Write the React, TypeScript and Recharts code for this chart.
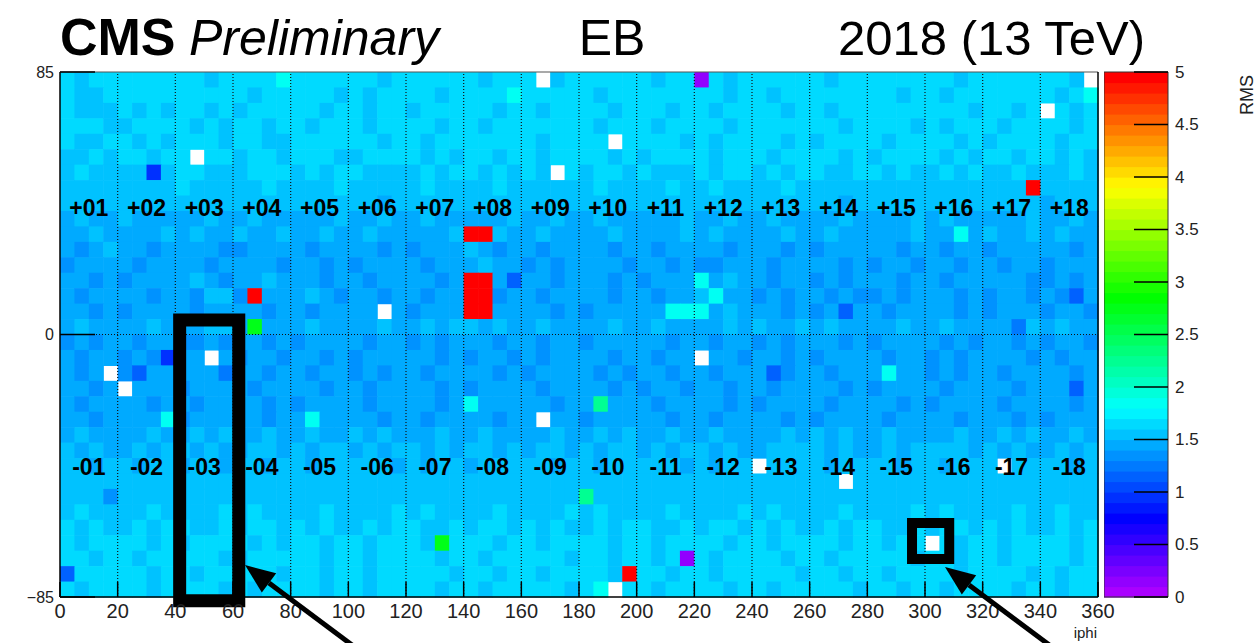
import React from "react";
import { ScatterChart, Scatter, XAxis, YAxis, ReferenceLine, ReferenceArea } from "recharts";

// ==================== data ====================
// one string per 5-eta row (eta 85 -> -85), 72 cells of 5 iphi each, grouped by supermodule (4 cells)
// '0' = empty bin (white), '1'..'9' = increasing RMS in the blue/cyan range, g/G = greenish, p = purple, r = red (>=5)
const ROWS = [
  "8788 8888 8878 8889 8888 8878 8888 8788 8078 8888 8788 p878 8888 8788 8888 8878 8888 8870",
  "8778 8888 8888 8788 8887 8788 8878 8889 8888 8788 8888 8878 8788 8888 8878 8788 8888 8789",
  "8777 8787 8878 7888 8878 8788 7888 8878 8788 8878 8878 8788 8878 8788 8888 8887 8878 0878",
  "8887 7888 8787 8878 8788 8788 8878 8788 8888 8788 8788 8878 8888 8878 8887 8788 8788 8878",
  "8778 8787 8887 8877 8888 8878 8788 8888 8788 8808 8887 8788 8878 7888 8788 8878 7888 8788",
  "7787 8878 8088 7887 8887 7888 8787 8878 8788 8878 7888 8788 8788 8878 7888 8787 8878 8787",
  "7877 7717 8877 7888 7878 8777 7878 8787 8708 7887 8777 8788 7878 8778 8787 7878 7787 7787",
  "7677 7767 8777 7787 7778 7767 7877 7787 7777 7877 7787 7877 7787 7777 7777 7776 776r 6777",
  "6666 6766 6676 6676 6667 6656 6766 6766 6676 6766 6666 6676 6666 6656 6666 6676 6667 5666",
  "5655 6555 5565 5655 5556 5565 5655 5556 5565 5655 5556 5565 5655 5565 5556 5655 5556 5565",
  "5565 5556 5655 6556 5565 5655 5556 rr65 5655 5565 5556 5655 5565 5655 5556 5595 6556 5655",
  "5456 5545 5554 4555 5455 5545 4555 6545 5455 5545 5455 5545 5545 4555 5545 5455 4555 5545",
  "4555 5455 5545 5554 5545 4555 5455 5655 4545 5554 5545 4455 5455 5545 4554 5545 5455 4555",
  "5545 4555 5654 5565 5545 5455 5545 rr52 5545 5545 4555 9565 5455 4545 5545 5455 5554 4545",
  "5455 5545 5466 4r55 5654 5545 5455 rr45 5455 5545 5455 6955 4545 5454 4545 5545 4554 5425",
  "5545 4555 5455 5545 5455 5505 4555 rr55 5545 4555 5599 9565 5545 4525 5455 5545 4555 4554",
  "5655 5565 5566 5G55 5655 5565 5656 6565 5655 5565 5655 5565 6556 5655 5565 5655 5536 5655",
  "4545 5455 4454 5545 4555 5455 4545 5545 5455 4555 5545 5455 4545 5545 4555 5454 5545 4554",
  "5455 4541 5505 4554 5545 4555 5545 4554 5455 5545 5455 0554 5545 4555 5455 4545 5554 5455",
  "5450 4255 5553 5545 5455 4545 5455 5545 4555 5454 5545 5455 5245 5455 5955 4545 5455 5545",
  "5545 0555 4555 5455 5545 5455 5545 4555 5455 5545 4554 5545 5455 5545 4555 5455 5545 5525",
  "5455 5545 5455 5545 4555 5455 5545 9555 5545 5g55 5455 5545 4555 5455 5545 4555 5455 5545",
  "5545 5559 4555 5545 5955 5545 5455 5545 5055 4555 5545 5455 5545 4555 5455 5545 5545 4555",
  "5655 5565 5656 5565 5655 6565 5565 5655 5565 5656 5565 5655 5565 6565 5655 5565 5656 5565",
  "6565 5656 6565 5665 6566 5656 6565 6656 5665 6566 5656 6565 5666 6565 5656 6665 6565 5656",
  "6656 6566 5665 6656 6566 6665 6566 5666 6656 6566 6665 6566 0666 6566 6656 6566 6066 6656",
  "6766 6676 6667 6676 7666 6676 6667 6766 6676 6766 6676 6667 6676 6606 6766 6676 6667 6766",
  "6764 6676 6766 6667 6766 6676 6766 6676 6766 g676 6667 6766 6676 6766 6667 6766 6676 6667",
  "7877 7787 7778 7877 7787 7778 7877 7787 7778 7877 7787 7778 7877 7787 7778 7877 7787 7877",
  "8787 7878 8778 7887 8787 7878 8778 7887 8787 7878 8778 7887 8787 7878 8778 7887 8787 7878",
  "8788 8878 7888 8787 8878 8788 87G8 8878 8788 8878 8788 8878 8788 8878 8788 0878 8788 8878",
  "8878 8788 8887 7888 8878 8788 8878 8788 8887 8878 878p 8788 8878 8788 8887 8878 8788 8878",
  "2888 8878 8788 8887 8878 8788 8887 8878 8788 887r 8878 8788 8887 8878 8788 8878 8887 8788",
  "8788 8878 8887 8788 8878 8788 8878 8788 8887 8908 8788 8878 8788 8887 8878 8788 8878 8788",
];

const LEVELS: Record<string, number> = {
  p: 0.15, "1": 0.98, "2": 1.1, "3": 1.22, "4": 1.32, "5": 1.42,
  "6": 1.5, "7": 1.58, "8": 1.68, "9": 1.8, g: 2.2, G: 2.75, r: 5.0,
};

const SM_TOP = ["+01", "+02", "+03", "+04", "+05", "+06", "+07", "+08", "+09", "+10", "+11", "+12", "+13", "+14", "+15", "+16", "+17", "+18"];
const SM_BOTTOM = ["-01", "-02", "-03", "-04", "-05", "-06", "-07", "-08", "-09", "-10", "-11", "-12", "-13", "-14", "-15", "-16", "-17", "-18"];
const X_TICKS = [0, 20, 40, 60, 80, 100, 120, 140, 160, 180, 200, 220, 240, 260, 280, 300, 320, 340, 360];
const Y_TICKS = [-85, 0, 85];
const Z_TICKS = [0, 0.5, 1, 1.5, 2, 2.5, 3, 3.5, 4, 4.5, 5];
const SM_EDGES = [20, 40, 60, 80, 100, 120, 140, 160, 180, 200, 220, 240, 260, 280, 300, 320, 340];

// ==================== layout ====================
const W = 1258;
const H = 643;
const PLOT = { left: 60, top: 72, right: 1098, bottom: 597 };
const NCOL = 72;
const NROW = 34;
const CELL_W = (PLOT.right - PLOT.left) / NCOL;
const CELL_H = (PLOT.bottom - PLOT.top) / NROW;
const ZBAR = { left: 1104, width: 64 };
const NBANDS = 50;
const BAND_H = (PLOT.bottom - PLOT.top) / NBANDS;
const FONT = "'Liberation Sans', Arial, Helvetica, sans-serif";

// ROOT "pretty palette": 50 colours, violet -> red
function paletteColor(i: number) {
  const hue = 280 * (1 - i / (NBANDS - 1));
  return `hsl(${hue.toFixed(1)},100%,50%)`;
}
function rmsColor(v: number) {
  const i = Math.max(0, Math.min(NBANDS - 1, Math.floor((v / 5) * NBANDS)));
  return paletteColor(i);
}

const cells: { iphi: number; ieta: number; rms: number }[] = [];
ROWS.forEach((row, r) => {
  row.replace(/ /g, "").split("").forEach((ch, c) => {
    if (ch === "0") return;
    cells.push({ iphi: c * 5 + 2.5, ieta: 85 - r * 5 - 2.5, rms: LEVELS[ch] });
  });
});

const smLabels = [
  ...SM_TOP.map((text, k) => ({ iphi: 10 + 20 * k, ieta: 41, text })),
  ...SM_BOTTOM.map((text, k) => ({ iphi: 10 + 20 * k, ieta: -43, text })),
];

// colour-scale bands, centre of each 0.1 step
const zBands = Array.from({ length: NBANDS }, (_, i) => ({ x: 0.5, z: (i + 0.5) * 0.1, idx: i }));

// ==================== shapes / ticks ====================
const CellShape = (p: any) => {
  const rms = p.payload?.rms ?? p.rms;
  return (
    <rect
      x={p.cx - CELL_W / 2}
      y={p.cy - CELL_H / 2}
      width={CELL_W + 0.6}
      height={CELL_H + 0.6}
      fill={rmsColor(rms)}
    />
  );
};

const BandShape = (p: any) => {
  const idx = p.payload?.idx ?? p.idx;
  return (
    <rect
      x={p.cx - ZBAR.width / 2}
      y={p.cy - BAND_H / 2}
      width={ZBAR.width}
      height={BAND_H + 0.6}
      fill={paletteColor(idx)}
    />
  );
};

const LabelShape = (p: any) => (
  <text
    x={p.cx}
    y={p.cy}
    textAnchor="middle"
    dominantBaseline="central"
    fontFamily={FONT}
    fontWeight="bold"
    fontSize={23}
    fill="#000"
  >
    {p.payload?.text ?? p.text}
  </text>
);

const XTick = ({ x, y, payload }: any) => (
  <g>
    <line x1={x} x2={x} y1={y} y2={y - 15} stroke="#000" strokeWidth={1.5} />
    <text x={x} y={y + 21} textAnchor="middle" fontFamily={FONT} fontSize={20} fill="#222">
      {payload.value}
    </text>
  </g>
);

const YTick = ({ x, y, payload }: any) => (
  <g>
    <line x1={x} x2={x + 35} y1={y} y2={y} stroke="#000" strokeWidth={1.5} />
    <text x={x - 6} y={y} textAnchor="end" dominantBaseline="central" fontFamily={FONT} fontSize={16} fill="#222">
      {payload.value < 0 ? `\u2212${-payload.value}` : payload.value}
    </text>
  </g>
);

const ZTick = ({ x, y, payload }: any) => (
  <g>
    <line x1={x - 34} x2={x} y1={y} y2={y} stroke="#000" strokeWidth={1.5} />
    <text x={x + 7} y={y} dominantBaseline="central" fontFamily={FONT} fontSize={17} fill="#222">
      {payload.value}
    </text>
  </g>
);

// arrows of the annotation (page pixels)
const ARROWS = [
  { tip: [245, 565], tail: [352, 645] },
  { tip: [945, 567], tail: [1052, 647] },
];

function Arrow({ tip, tail }: { tip: number[]; tail: number[] }) {
  const dx = tail[0] - tip[0];
  const dy = tail[1] - tip[1];
  const len = Math.hypot(dx, dy);
  const ux = dx / len;
  const uy = dy / len;
  const headLen = 30;
  const headHalf = 12;
  const bx = tip[0] + ux * headLen;
  const by = tip[1] + uy * headLen;
  return (
    <g>
      <line x1={bx} y1={by} x2={tail[0]} y2={tail[1]} stroke="#000" strokeWidth={5} />
      <polygon
        points={`${tip[0]},${tip[1]} ${bx - uy * headHalf},${by + ux * headHalf} ${bx + uy * headHalf},${by - ux * headHalf}`}
        fill="#000"
      />
    </g>
  );
}

export default function App() {
  const chartW = PLOT.right + 32;
  return (
    <div style={{ position: "absolute", left: 0, top: 0, width: W, height: H, background: "#fff", overflow: "hidden" }}>
      <div style={{ position: "absolute", left: 0, top: 0 }}>
        <ScatterChart width={chartW} height={H} margin={{ top: PLOT.top, right: chartW - PLOT.right, bottom: 0, left: 0 }}>
          <XAxis
            type="number"
            dataKey="iphi"
            domain={[0, 360]}
            ticks={X_TICKS}
            height={H - PLOT.bottom}
            tick={XTick}
            tickSize={0}
            tickMargin={0}
            tickLine={false}
            axisLine={{ stroke: "#000", strokeWidth: 1.5 }}
            interval={0}
          />
          <YAxis
            type="number"
            dataKey="ieta"
            domain={[-85, 85]}
            ticks={Y_TICKS}
            width={PLOT.left}
            tick={YTick}
            tickSize={0}
            tickMargin={0}
            tickLine={false}
            axisLine={{ stroke: "#000", strokeWidth: 1.5 }}
            interval={0}
          />
          <Scatter data={cells} shape={CellShape} isAnimationActive={false} zIndex={50} />
          {SM_EDGES.map((e) => (
            <ReferenceLine key={e} x={e} stroke="#111" strokeDasharray="1 2" strokeWidth={1.2} zIndex={700} />
          ))}
          <ReferenceLine y={0} stroke="#111" strokeDasharray="1 2" strokeWidth={1.2} zIndex={700} />
          <ReferenceLine y={85} stroke="#555" strokeWidth={1.2} zIndex={700} />
          <ReferenceLine x={360} stroke="#000" strokeWidth={1.5} zIndex={700} />
          <Scatter data={smLabels} shape={LabelShape} isAnimationActive={false} zIndex={900} />
          <ReferenceArea
            x1={41.5}
            x2={62}
            y1={-86.2}
            y2={4.7}
            fill="none"
            fillOpacity={0}
            stroke="#000"
            strokeWidth={13}
            ifOverflow="visible"
            zIndex={950}
          />
          <ReferenceArea
            x1={295.5}
            x2={308.4}
            y1={-72.7}
            y2={-61}
            fill="none"
            fillOpacity={0}
            stroke="#000"
            strokeWidth={10}
            ifOverflow="visible"
            zIndex={950}
          />
        </ScatterChart>
      </div>

      {/* colour scale */}
      <div style={{ position: "absolute", left: ZBAR.left, top: 0 }}>
        <ScatterChart width={W - ZBAR.left} height={H} margin={{ top: PLOT.top, right: 0, bottom: 0, left: 0 }}>
          <XAxis type="number" dataKey="x" domain={[0, 1]} hide />
          <YAxis
            type="number"
            dataKey="z"
            orientation="right"
            domain={[0, 5]}
            ticks={Z_TICKS}
            width={W - ZBAR.left - ZBAR.width}
            tick={ZTick}
            tickSize={0}
            tickMargin={0}
            tickLine={false}
            axisLine={false}
            interval={0}
          />
          <XAxis xAxisId="pad" type="number" height={H - PLOT.bottom} hide={false} tick={false} axisLine={false} tickLine={false} />
          <Scatter data={zBands} shape={BandShape} isAnimationActive={false} zIndex={50} />
          <ReferenceArea x1={0} x2={1} y1={0} y2={5} fill="none" fillOpacity={0} stroke="#333" strokeWidth={1} zIndex={300} />
        </ScatterChart>
      </div>

      <svg width={W} height={H} style={{ position: "absolute", left: 0, top: 0, pointerEvents: "none" }}>
        <text x={60} y={55} fontFamily={FONT} fontWeight="bold" fontSize={52} fill="#000">CMS</text>
        <text x={189} y={55} fontFamily={FONT} fontStyle="italic" fontSize={50} fill="#000">Preliminary</text>
        <text x={612} y={55} textAnchor="middle" fontFamily={FONT} fontSize={50} fill="#000">EB</text>
        <text x={1145} y={55} textAnchor="end" fontFamily={FONT} fontSize={49} fill="#000">2018 (13 TeV)</text>
        <text x={1253} y={95} textAnchor="middle" fontFamily={FONT} fontSize={18} fill="#222" transform="rotate(-90 1253 95)">RMS</text>
        <text x={1097} y={638} textAnchor="end" fontFamily={FONT} fontSize={15} fill="#222">iphi</text>
        {ARROWS.map((a, i) => (
          <Arrow key={i} tip={a.tip} tail={a.tail} />
        ))}
      </svg>
    </div>
  );
}
